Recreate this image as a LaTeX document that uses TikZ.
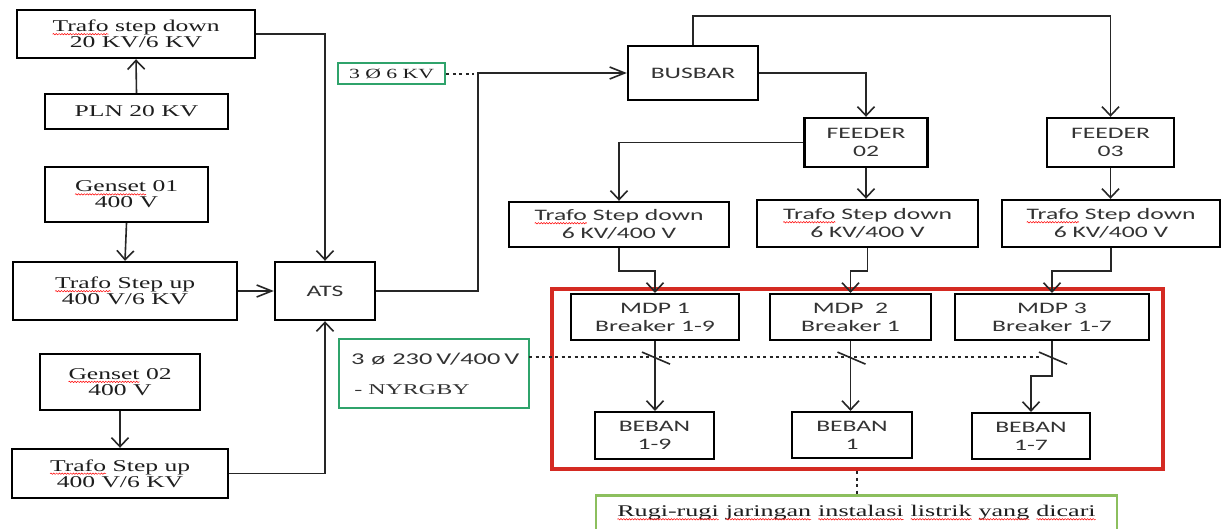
\documentclass[tikz,border=0pt]{standalone}
\usepackage{fontspec}
\setmainfont{Liberation Serif}
\newfontfamily\sw[FakeStretch=1.55]{Liberation Serif}
\newfontfamily\swl[FakeStretch=1.6]{Liberation Serif}
\newfontfamily\ssw[FakeStretch=1.6]{Carlito}
\usetikzlibrary{arrows.meta,decorations.pathmorphing}
\definecolor{redb}{HTML}{D42A22}
\definecolor{greenA}{HTML}{2FA36B}
\definecolor{greenB}{HTML}{8CBF5E}
\definecolor{txt}{HTML}{1E1E1E}
\definecolor{stxt}{HTML}{333333}
\newcommand\sq[1]{\tikz[baseline=(sqw.base)]{\node[inner sep=0pt, outer sep=0pt, draw=none, fill=none, minimum width=0pt, minimum height=0pt, text height=, text depth=, anchor=base] (sqw) at (0,0) {#1}; \draw[red, line width=0.5pt, decorate, decoration={snake, amplitude=0.7pt, segment length=2.8pt}] ([yshift=-2.5pt]sqw.base west) -- ([yshift=-2.5pt]sqw.base east);}}
\tikzset{
  blk/.style={draw=black, line width=2.4pt, rectangle, inner sep=0pt, align=center},
  serifbox/.style={blk, text=txt, font=\sw\fontsize{16.5}{16}\selectfont},
  sansbox/.style={blk, text=stxt, font=\ssw\fontsize{16}{18}\selectfont},
  conn/.style={line width=1.6pt, draw=black!85},
  arr/.style={conn, -{Straight Barb[length=9pt,width=17pt,line width=1.6pt]}},
  harr/.style={conn, -{Straight Barb[length=15pt,width=12pt,line width=1.6pt]}},
  dotline/.style={line width=2pt, draw=black!85, dash pattern=on 3pt off 3.5pt},
}
\begin{document}
\begin{tikzpicture}[x=1pt,y=-1pt]
\useasboundingbox (0,0) rectangle (1221,528);
\clip (0,0) rectangle (1221,528);
\fill[white] (0,0) rectangle (1221,528);
% left column
\node[serifbox, minimum width=238pt, minimum height=48pt] (tsd) at (136,34) {\sq{Trafo} step down\\20 KV/6 KV};
\node[serifbox, minimum width=183pt, minimum height=35pt] (pln) at (136.5,111.5) {PLN 20 KV};
\node[serifbox, minimum width=163pt, minimum height=55pt] (g1) at (126.5,194.5) {\sq{Genset} 01\\400 V};
\node[serifbox, minimum width=224pt, minimum height=58pt] (tsu1) at (125,291) {\sq{Trafo} Step up\\400 V/6 KV};
\node[sansbox, minimum width=100pt, minimum height=58pt] (ats) at (325,291) {ATS};
\node[serifbox, minimum width=160pt, minimum height=56pt] (g2) at (120,382) {\sq{Genset} 02\\400 V};
\node[serifbox, minimum width=216pt, minimum height=49pt] (tsu2) at (120,473.5) {\sq{Trafo} Step up\\400 V/6 KV};
% labels
\node[draw=greenA, line width=2.5pt, inner sep=0pt, minimum width=107pt, minimum height=21pt, text=txt, font=\sw\fontsize{14}{14}\selectfont] (v6) at (391.5,73.5) {3 Ø 6 KV};
\node[draw=greenA, line width=2.5pt, inner xsep=12pt, inner ysep=0pt, text width=166pt, minimum height=69pt, align=left, text=stxt] (v230) at (434,373.5) {\mbox{\ssw\fontsize{16.5}{16}\selectfont 3\hspace{7pt}ø\hspace{7pt}230\hspace{4pt}V/400\hspace{4pt}V}\\[18pt]\mbox{\swl\fontsize{15}{15}\selectfont\ -\hspace{6pt}NYRGBY}};
% right part
\node[sansbox, minimum width=130pt, minimum height=54pt] (busbar) at (693,73) {BUSBAR};
\node[sansbox, minimum width=123pt, minimum height=49pt] (f2) at (866,142.5) {FEEDER\\02};
\node[sansbox, minimum width=127pt, minimum height=49pt] (f3) at (1110.5,142.5) {FEEDER\\03};
\node[sansbox, minimum width=220pt, minimum height=45pt] (t1) at (619,224.5) {\sq{Trafo} Step down\\6 KV/400 V};
\node[sansbox, minimum width=221pt, minimum height=47pt] (t2) at (867.5,223.5) {\sq{Trafo} Step down\\6 KV/400 V};
\node[sansbox, minimum width=218pt, minimum height=47pt] (t3) at (1111,223.5) {\sq{Trafo} Step down\\6 KV/400 V};
\node[draw=redb, line width=4pt, inner sep=0pt, minimum width=611pt, minimum height=180pt] (panel) at (857.5,379) {};
\node[sansbox, line width=2.2pt, minimum width=168pt, minimum height=46pt] (m1) at (655,317) {MDP 1\\Breaker 1-9};
\node[sansbox, line width=2.2pt, minimum width=161pt, minimum height=46pt] (m2) at (850.5,317) {MDP\ \ 2\\Breaker 1};
\node[sansbox, line width=2.2pt, minimum width=194pt, minimum height=46pt] (m3) at (1052,317) {MDP 3\\Breaker 1-7};
\node[sansbox, line width=2.2pt, minimum width=119pt, minimum height=47pt] (b1) at (654.5,435.5) {BEBAN\\1-9};
\node[sansbox, line width=2.2pt, minimum width=120pt, minimum height=46pt] (b2) at (852,435) {BEBAN\\1};
\node[sansbox, line width=2.2pt, minimum width=118pt, minimum height=46pt] (b3) at (1031,436) {BEBAN\\1-7};
\node[draw=greenB, line width=2.5pt, anchor=north, inner sep=0pt, minimum width=521pt, minimum height=44pt, text height=11pt, text depth=12pt, text=txt, font=\swl\fontsize{16.3}{16}\selectfont] (loss) at (856.5,494) {\sq{Rugi-rugi} \sq{jaringan} \sq{instalasi} \sq{listrik} \sq{yang} \sq{dicari}};
% coordinates
\coordinate (j1) at (478,73);
\coordinate (d1) at (474,73.5);
\coordinate (d2s) at (529,357);
\coordinate (d2e) at (1040,357);
% connectors left
\draw[arr] (pln.north) -- (tsd.south);
\draw[arr] (g1.south) -- (tsu1.north);
\draw[arr] (g2.south) -- (tsu2.north);
\draw[harr] (tsu1.east) -- (ats.west);
\draw[arr] (tsd.east) -| (ats.north);
\draw[arr] (tsu2.east) -| (ats.south);
\draw[harr] (ats.east) -| (j1) -- (busbar.west);
\draw[dotline] (v6.east) -- (d1);
% connectors right
\draw[arr] (busbar.north) -- ++(0,-29) -| (f3.north);
\draw[arr] (busbar.east) -| (f2.north);
\draw[arr] (f2.west) -| (t1.north);
\draw[arr] (f2.south) -- (f2.south |- t2.north);
\draw[arr] (f3.south) -- (f3.south |- t3.north);
\draw[arr] (t1.south) -- ++(0,22.5) -| (m1.north);
\draw[arr] (t2.south) -- ++(0,22.5) -| (m2.north);
\draw[arr] (t3.south) -- ++(0,22.5) -| (m3.north);
\draw[arr] (m1.south) -- (m1.south |- b1.north);
\draw[arr] (m2.south) -- (m2.south |- b2.north);
\draw[arr] (m3.south) -- ++(0,35) -| (b3.north);
\draw[dotline] (d2s) -- (d2e);
\draw[conn] ([shift={(-13,11)}]m1.south) -- ++(28,12);
\draw[conn] ([shift={(-13,11)}]m2.south) -- ++(28,12);
\draw[conn] ([shift={(-13,11)}]m3.south) -- ++(28,12);
\draw[dotline] (loss.north |- panel.south) -- (loss.north);
\end{tikzpicture}
\end{document}
